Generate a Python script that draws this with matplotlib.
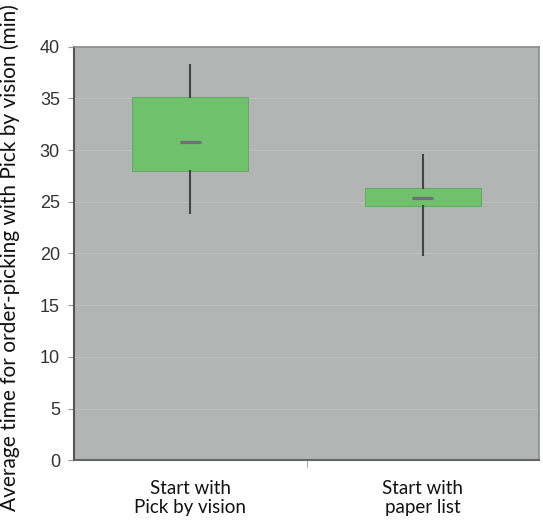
import matplotlib
matplotlib.use("Agg")
import matplotlib.pyplot as plt

categories = ["Start with\nPick by vision", "Start with\npaper list"]
whisker_low = [23.9, 19.9]
q1 = [28.0, 24.6]
median = [30.8, 25.4]
q3 = [35.1, 26.3]
whisker_high = [38.2, 29.5]
yticks = [0, 5, 10, 15, 20, 25, 30, 35, 40]

fig = plt.figure(figsize=(5.43, 5.2), dpi=100)
ax = fig.add_axes([0.136, 0.115, 0.857, 0.795])
ax.set_facecolor("#b3b5b5")

stats = []
for i in range(len(categories)):
    stats.append(dict(whislo=whisker_low[i], q1=q1[i], med=median[i], q3=q3[i],
                      whishi=whisker_high[i], fliers=[], label=categories[i]))

positions = [1, 3]
res = ax.bxp(stats, positions=positions, widths=1.0, patch_artist=True, showcaps=False,
             boxprops=dict(facecolor="#70c16c", edgecolor="#6aa868", linewidth=0.8),
             whiskerprops=dict(color="#444448", linewidth=1.5),
             medianprops=dict(color="#6e6e74", linewidth=2.3, solid_capstyle="butt"),
             zorder=3)
for p, line in zip(positions, res["medians"]):
    line.set_xdata([p - 0.09, p + 0.09])

ax.set_xlim(0, 4)
ax.set_ylim(0, 40)
ax.set_yticks(yticks)
ax.set_yticklabels([str(v) for v in yticks], fontsize=13, color="#333333",
                   family="Liberation Sans")
ax.set_xticks(positions)
ax.set_xticklabels(categories, fontsize=13.5, family="Lato", color="#111111")
ax.tick_params(axis="x", length=0, pad=14)
ax.tick_params(axis="y", length=4, color="#999999", pad=6)
ax.set_xticks([2], minor=True)
ax.tick_params(axis="x", which="minor", length=5, color="#999999")

ax.grid(axis="y", color="#bec0c0", linewidth=0.8, zorder=0)
ax.set_axisbelow(True)

for s in ["top", "right"]:
    ax.spines[s].set_color("#8a8a8a")
    ax.spines[s].set_linewidth(1.2)
ax.spines["left"].set_color("#555555")
ax.spines["left"].set_linewidth(1.5)
ax.spines["bottom"].set_color("#666666")
ax.spines["bottom"].set_linewidth(1.5)

ax.set_ylabel("Average time for order-picking with Pick by vision (min)",
              fontsize=15, family="Lato", color="#111111")
ax.yaxis.set_label_coords(-0.115, 0.49)

fig.savefig("out.png", dpi=100, facecolor="white")
